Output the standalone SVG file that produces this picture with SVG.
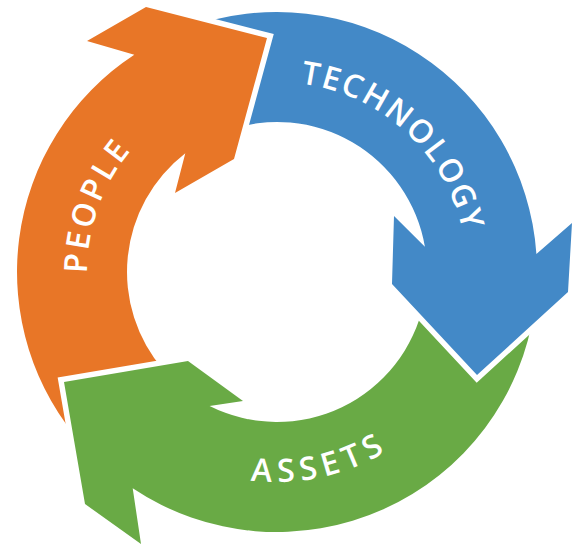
<svg xmlns="http://www.w3.org/2000/svg" xmlns:xlink="http://www.w3.org/1999/xlink" width="579" height="546" viewBox="0 0 579 546">
  <style>
    .arrow { stroke: #ffffff; stroke-width: 11; stroke-linejoin: miter; stroke-miterlimit: 10; paint-order: stroke; }
    .blue { fill: #4389C7; }
    .orange { fill: #E87627; }
    .green { fill: #69AA45; }
    .label { fill: #ffffff; font-family: "Open Sans", "Liberation Sans", sans-serif; font-weight: 600; font-size: 32px; letter-spacing: 3px; }
    .tech { letter-spacing: 2px; }
    .assets { letter-spacing: 6px; }
  </style>
  <defs>
    <path id="tp-tech" d="M 219.9 90.8 A 190 190 0 0 1 462.5 313.1"/>
    <path id="tp-people" d="M 131.5 394.1 A 190 190 0 0 1 244.0 84.9"/>
    <path id="tp-assets" d="M 122.7 414.4 A 210 210 0 0 0 477.5 334.5"/>
    <clipPath id="clip-green-head">
      <rect x="0" y="340" width="248" height="206"/>
    </clipPath>
  </defs>

  <g id="node-assets">
    <path id="assets-shape" class="arrow green" d="M 534.5 308.2 A 260 260 0 0 1 132.7 488.3 L 141 544 L 85 504 L 64 382 L 188 361 L 243 401 L 209.6 406.0 A 150 150 0 0 0 423.7 303.2 Z"/>
    <text class="label assets"><textPath href="#tp-assets" startOffset="50%" text-anchor="middle">ASSETS</textPath></text>
  </g>

  <g id="node-technology">
    <path id="technology-shape" class="arrow blue" d="M 188.1 27.7 A 260 260 0 0 1 536.4 253.9 L 572 223 L 568 292 L 477 375 L 392 284 L 394 216 L 424.9 246.7 A 150 150 0 0 0 225.7 131.0 Z"/>
    <text class="label tech"><textPath href="#tp-tech" startOffset="50%" text-anchor="middle">TECHNOLOGY</textPath></text>
  </g>

  <g id="node-people">
    <path id="people-shape" class="arrow orange" d="M 83.8 446.0 A 260 260 0 0 1 134.3 54.7 L 87 41 L 146 7 L 267 38 L 234 159 L 175 193 L 185.3 153.3 A 150 150 0 0 0 163.8 370.4 Z"/>
    <text class="label"><textPath href="#tp-people" startOffset="50%" text-anchor="middle">PEOPLE</textPath></text>
  </g>

  <g id="connectors">
    <use href="#assets-shape" clip-path="url(#clip-green-head)"/>
  </g>
</svg>
